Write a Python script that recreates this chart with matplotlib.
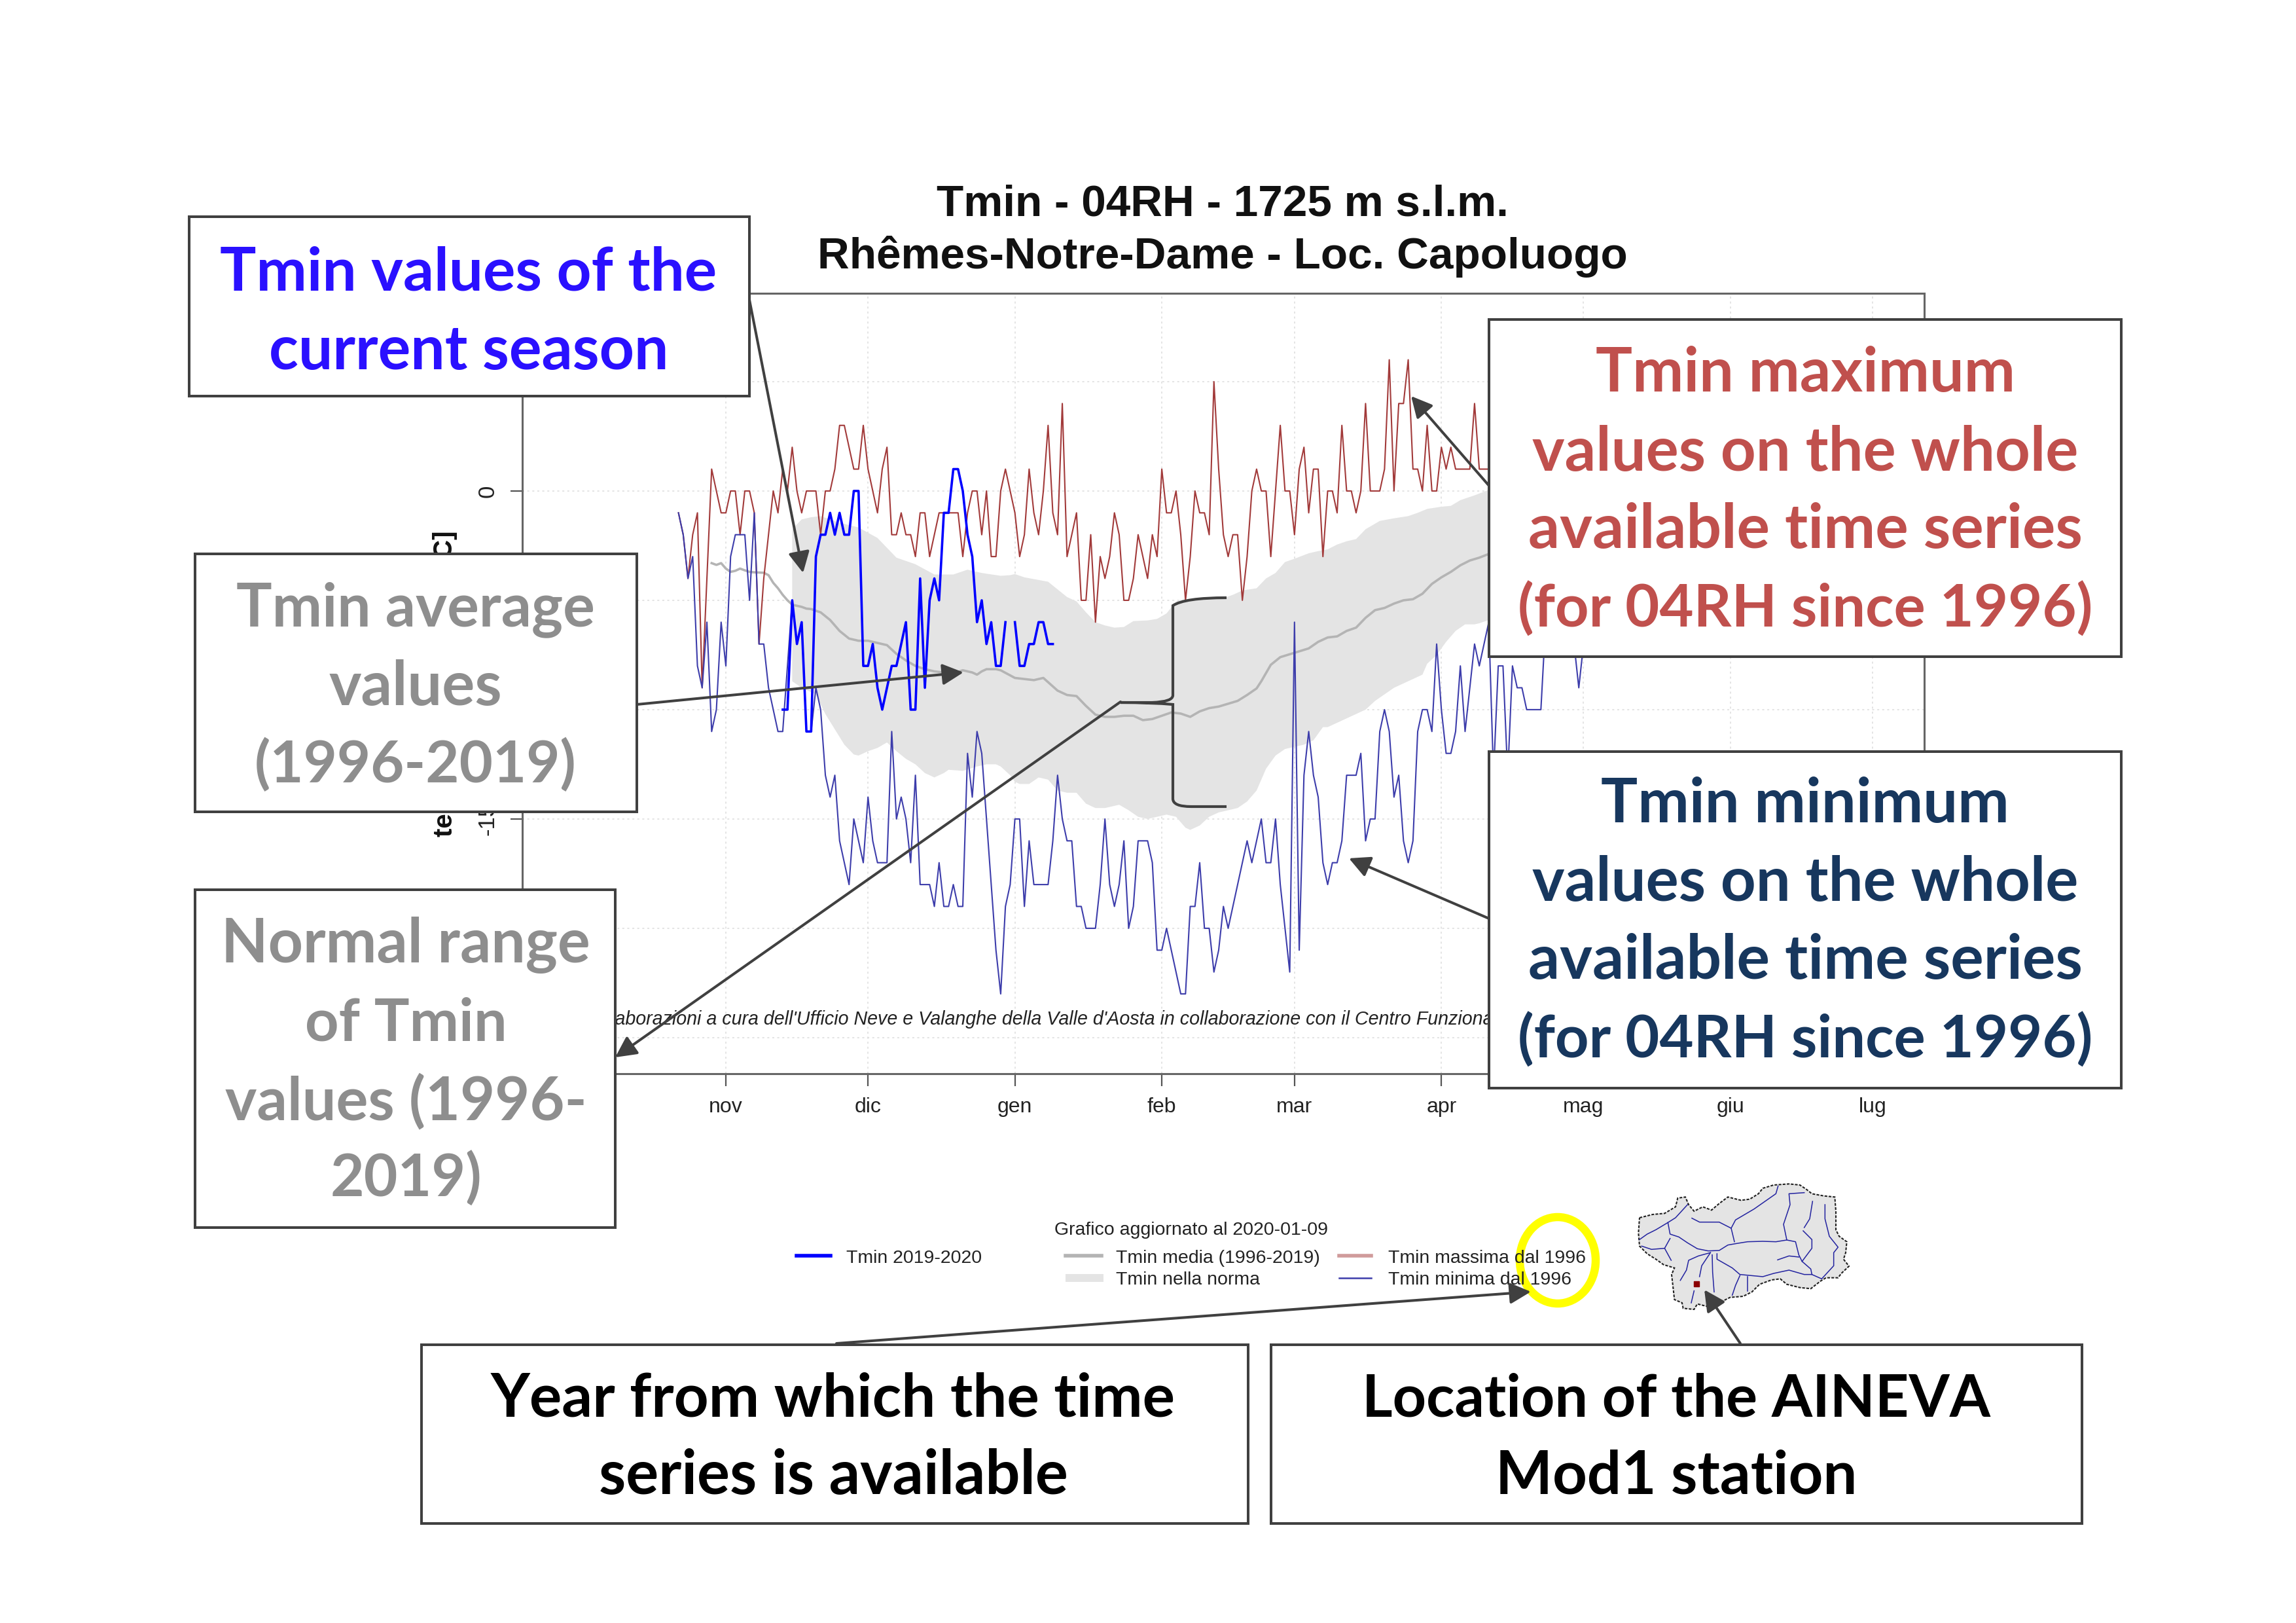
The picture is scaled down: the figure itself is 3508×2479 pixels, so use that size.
import numpy as np
import matplotlib
matplotlib.use('Agg')
import matplotlib.pyplot as plt
from matplotlib.patches import Rectangle, Ellipse, PathPatch, Polygon
from matplotlib.path import Path

# Series (days counted from 1 November)
tmin_max_start = -10
tmin_max = [-1, -2, -4, -2, -1, -9, -4, 1, 0, -1,
            -1, 0, 0, -2, 0, 0, -1, -7, -4, -2,
            0, -1, 1, 0, 2, 0, -1, 0, 0, 0,
            -2, 0, 0, 1, 3, 3, 2, 1, 1, 3,
            1, 0, -1, 1, 2, -2, -2, -1, -2, -2,
            -3, -1, -1, -3, -2, -1, -1, -1, -1, -1,
            -3, -1, 0, 0, -2, 0, -3, -3, 0, 1,
            0, -1, -3, -2, 1, -1, -2, 0, 3, -1,
            -2, 4, -3, -2, -1, -5, -5, -2, -6, -3,
            -4, -3, -1, -2, -5, -5, -4, -2, -3, -4,
            -2, -3, 1, -1, -1, 0, -2, -5, -3, 0,
            -1, -1, -2, 5, 1, -2, -3, -2, -2, -5,
            -3, 0, 1, 0, 0, -3, 0, 3, 0, 0,
            -2, 1, 2, -1, 1, 1, -3, 0, 0, -1,
            3, 0, 0, -1, 0, 4, 0, 0, 0, 1,
            6, 0, 4, 4, 6, 1, 1, 0, 3, 0,
            0, 2, 1, 2, 1, 1, 1, 1, 4, 1, 1, 1]

tmin_min_start = -10
tmin_min = [-1, -2, -4, -3, -8, -9, -6, -11, -10, -6,
            -8, -3, -2, -2, -2, -5, -1, -7, -7, -9,
            -10, -11, -11, -8, -5, -7, -6, -11, -11, -9,
            -10, -13, -14, -13, -16, -17, -18, -15, -16, -17,
            -14, -16, -17, -17, -17, -11, -15, -14, -15, -17,
            -13, -18, -18, -18, -19, -17, -19, -19, -18, -19,
            -19, -12, -14, -11, -12, -15, -18, -21, -23, -19,
            -18, -15, -15, -19, -16, -18, -18, -18, -18, -16,
            -13, -15, -16, -16, -19, -19, -20, -20, -20, -18,
            -15, -18, -19, -18, -16, -20, -19, -16, -16, -16,
            -17, -21, -21, -20, -21, -22, -23, -23, -19, -19,
            -17, -20, -20, -22, -21, -19, -20, -19, -18, -17,
            -16, -17, -16, -15, -17, -17, -15, -18, -20, -22,
            -6, -21, -13, -11, -13, -14, -17, -18, -17, -17,
            -16, -13, -13, -13, -12, -16, -15, -15, -11, -10,
            -11, -14, -13, -16, -17, -16, -11, -10, -10, -11,
            -7, -10, -12, -12, -11, -8, -11, -9, -7, -8,
            -7, -6, -13, -8, -8, -13, -8, -9, -9, -10,
            -10, -10, -10, -6, -5, -5, -5, -5, -5, -7, -9, -7]

tmin_current_start = 12
tmin_current = [-10, -10, -5, -7, -6, -11, -11, -3, -2, -2,
                -1, -2, -1, -2, -2, 0, 0, -8, -8, -7,
                -9, -10, -9, -8, -8, -7, -6, -10, -10, -4,
                -9, -5, -4, -5, -1, -1, 1, 1, 0, -2,
                -3, -6, -5, -7, -6, -8, -8, -6, np.nan, -6,
                -8, -8, -7, -7, -6, -6, -7, -7]

mean_days = [-3, -2, -1, 0, 1, 2, 3, 4, 5, 6, 7, 8, 9, 10, 11, 12, 13, 14, 15, 16, 17, 18, 19, 20,
             22, 24, 26, 28, 30, 32, 34, 36, 38, 40, 42, 44, 48, 50, 52, 53, 54, 55, 57, 58,
             61, 63, 65, 67, 70, 72, 74, 76, 78, 80, 82, 84, 86, 88, 90, 92, 94, 96, 98,
             100, 102, 104, 106, 108, 110, 112, 113, 115, 117, 120, 123, 125, 127, 129, 131, 133,
             135, 137, 139, 141, 143, 145, 147, 149, 151, 153, 155, 157, 159, 161]
mean_values = [-3.3, -3.38, -3.3, -3.55, -3.7, -3.65, -3.55, -3.63, -3.7, -3.72, -3.73, -3.74,
               -3.85, -4.2, -4.45, -4.75, -5.0, -5.2, -5.25, -5.3, -5.38, -5.4, -5.48, -5.55,
               -5.9, -6.4, -6.75, -6.85, -6.85, -6.95, -7.05, -7.45, -7.75, -8.0, -8.15, -8.25,
               -8.35, -8.2, -8.3, -8.4, -8.25, -8.15, -8.15, -8.2,
               -8.55, -8.6, -8.65, -8.55, -9.13, -9.33, -9.38, -9.83, -10.23, -10.33, -10.33,
               -10.28, -10.28, -10.48, -10.43, -10.28, -10.13, -10.18, -10.33,
               -10.08, -9.93, -9.86, -9.73, -9.6, -9.33, -9.03, -8.7, -7.95, -7.6, -7.4, -7.2,
               -6.9, -6.7, -6.65, -6.4, -6.25,
               -5.8, -5.45, -5.35, -5.15, -5.0, -4.95, -4.7, -4.25, -3.95, -3.7, -3.4, -3.18,
               -3.05, -2.88]

upper_days = [14, 16, 18, 20, 24, 28, 32, 36, 40, 44, 48, 51, 54, 58, 60, 61, 63, 66, 68, 70,
              72, 74, 76, 78, 80, 82, 84, 86, 89, 91, 93, 95, 97, 100, 103, 105, 107, 109, 112,
              114, 116, 118, 120, 123, 125, 127, 129, 131, 133, 135, 138, 141, 144, 146, 148,
              151, 153, 155, 158, 161]
upper_values = [-1.75, -1.3, -1.2, -1.15, -1.45, -1.67, -2.15, -3.05, -3.35, -3.82, -3.82, -3.6,
                -3.75, -3.88, -3.85, -3.8, -3.95, -4.07, -4.15, -4.5, -4.85, -5.05, -5.55, -6.0,
                -6.15, -6.25, -6.22, -5.95, -5.92, -5.85, -5.6, -5.05, -4.95, -4.95, -4.95, -4.9,
                -4.75, -4.55, -4.45, -4.0, -3.75, -3.25, -3.1, -2.85, -2.75, -2.67, -2.45, -2.3,
                -2.2, -1.75, -1.37, -1.25, -1.15, -1.0, -0.82, -0.72, -0.68, -0.42, -0.2, 0.05]

lower_days = [14, 16, 19, 21, 23, 25, 27, 28, 30, 32, 34, 36, 38, 40, 42, 44, 46, 47, 50, 53,
              55, 57, 58, 60, 61, 62, 64, 66, 68, 70, 72, 74, 76, 78, 80, 82, 83, 85, 87, 89,
              91, 93, 95, 97, 98, 100, 102, 104, 106, 108, 110, 112, 114, 116, 118, 120, 122,
              124, 126, 127, 129, 131, 133, 135, 137, 139, 141, 143, 145, 147, 148, 150, 152,
              154, 156, 158, 159, 161]
lower_values = [-8.7, -9.0, -9.3, -10.2, -10.9, -11.6, -12.05, -12.1, -11.9, -11.75, -11.5, -11.9,
                -12.25, -12.5, -12.9, -13.1, -12.9, -12.75, -12.8, -12.6, -12.5, -12.5, -12.6,
                -13.0, -13.3, -13.4, -13.4, -13.1, -13.2, -13.7, -13.8, -13.8, -14.3, -14.5,
                -14.5, -14.4, -14.35, -14.6, -14.9, -15.0, -14.9, -14.8, -14.9, -15.4, -15.5,
                -15.3, -14.9, -14.7, -14.6, -14.5, -14.2, -13.7, -12.7, -12.1, -11.8, -11.7,
                -11.6, -11.4, -10.8, -10.8, -10.6, -10.4, -10.2, -10.0, -9.6, -9.3, -9.0, -8.8,
                -8.6, -8.4, -7.9, -7.5, -6.9, -6.4, -6.1, -6.1, -6.05, -5.9]

# Axes labels
month_days = [0, 30, 61, 92, 120, 151, 181, 212, 242]
month_labels = ['nov', 'dic', 'gen', 'feb', 'mar', 'apr', 'mag', 'giu', 'lug']
y_grid = [5, 0, -5, -10, -15, -20, -25]
# the other y labels sit behind the text boxes
y_labelled = [0, -15]

# Valle d'Aosta map
map_outline = [(75, 210), (135, 195), (190, 190), (240, 160), (250, 120), (285, 115), (300, 150),
               (325, 180), (365, 160), (405, 175), (440, 145), (480, 115), (540, 130), (580, 125),
               (620, 100), (640, 75), (690, 60), (760, 55), (810, 60), (840, 80), (865, 100),
               (920, 110), (970, 115), (975, 180), (975, 265), (990, 295), (1025, 320), (1020, 370),
               (1010, 400), (1035, 432), (1000, 465), (985, 485), (930, 485), (905, 500), (860, 535),
               (810, 530), (750, 515), (720, 490), (680, 495), (625, 515), (590, 550), (550, 570),
               (490, 575), (440, 600), (400, 620), (340, 605), (325, 630), (275, 625), (270, 600),
               (235, 585), (230, 540), (222, 470), (235, 440), (185, 425), (150, 400), (110, 375),
               (75, 340), (70, 280)]
map_rivers = [
    [(75, 310), (110, 285), (150, 265), (205, 232), (240, 210), (295, 150)],
    [(205, 232), (215, 285), (255, 298), (295, 325), (340, 352), (390, 362), (440, 360), (480, 335),
     (520, 328), (570, 320), (640, 318), (700, 320), (750, 312), (790, 320), (805, 380), (820, 410),
     (860, 445), (865, 470), (910, 490), (965, 430), (965, 370), (985, 345), (945, 295), (925, 215),
     (925, 150)],
    [(85, 340), (130, 355), (190, 350), (215, 305)],
    [(190, 350), (220, 405)],
    [(315, 212), (350, 230), (440, 230), (495, 258), (510, 320)],
    [(495, 258), (515, 220), (600, 170), (700, 100), (710, 65)],
    [(750, 312), (735, 240), (765, 150), (760, 100), (830, 95)],
    [(830, 255), (855, 215), (868, 135)],
    [(825, 270), (865, 310), (865, 350), (820, 410)],
    [(708, 403), (760, 385), (805, 390)],
    [(400, 370), (345, 385), (300, 405), (290, 450), (262, 497)],
    [(400, 370), (360, 430), (350, 480)],
    [(408, 380), (410, 460), (417, 550)],
    [(430, 375), (430, 400), (500, 440), (535, 470), (640, 480), (690, 465), (760, 450), (830, 470),
     (865, 470)],
    [(535, 475), (515, 520), (500, 565)],
    [(570, 480), (570, 545)],
    [(325, 545), (312, 600)],
]
station_xy = (337, 513)

W, H = 3508, 2479
DARK = '#404040'
plt.rcParams['font.family'] = ['Liberation Sans', 'DejaVu Sans']

fig = plt.figure(figsize=(W / 100, H / 100), dpi=100, facecolor='white')


def px_axes(left, top, right, bottom, **kw):
    # axes placed with pixel coordinates of the page
    return fig.add_axes([left / W, 1 - bottom / H, (right - left) / W, (bottom - top) / H], **kw)


#### Main chart ####
ax = px_axes(798, 448, 2940, 1640, zorder=1)
ax.set_xlim(-42.96, 252.9)
ax.set_ylim(-26.65, 9.04)

for d in month_days:
    ax.axvline(d, color='#dcdcdc', lw=1.1, ls=(0, (2, 3)), zorder=1)
for v in y_grid:
    ax.axhline(v, color='#dcdcdc', lw=1.1, ls=(0, (2, 3)), zorder=1)

ax.fill(list(upper_days) + lower_days[::-1], list(upper_values) + lower_values[::-1],
        color='#e4e4e4', lw=0, zorder=2)
ax.plot(mean_days, mean_values, color='#b4b4b4', lw=2.6, zorder=3)
ax.plot(np.arange(len(tmin_max)) + tmin_max_start, tmin_max, color='#a23a3a', lw=1.5, zorder=4)
ax.plot(np.arange(len(tmin_min)) + tmin_min_start, tmin_min, color='#3d3dab', lw=1.5, zorder=4)
ax.plot(np.arange(len(tmin_current)) + tmin_current_start, tmin_current, color='#0000ff', lw=2.6, zorder=5)

ax.set_xticks(month_days)
ax.set_xticklabels(month_labels, fontsize=23, color='#222222')
ax.set_yticks(y_grid)
ax.set_yticklabels([str(v) if v in y_labelled else '' for v in y_grid], rotation=90, va='center',
                   fontsize=25, color='#222222')
ax.tick_params(axis='x', length=14, width=1.6, color='#555555', pad=12)
ax.tick_params(axis='y', length=13, width=1.6, color='#555555', pad=13)
for s in ax.spines.values():
    s.set_color('#666666')
    s.set_linewidth(2.2)

#### Regional map inset ####
ax_map = px_axes(2480, 1790, 2840, 2030, zorder=2)
ax_map.set_xlim(0, 1080)
ax_map.set_ylim(720, 0)
ax_map.axis('off')
ax_map.add_patch(Polygon(map_outline, closed=True, facecolor='#e4e4e4', edgecolor='#222222',
                         lw=1.5, ls=(0, (2, 1))))
for river in map_rivers:
    xs, ys = zip(*river)
    ax_map.plot(xs, ys, color='#2323a0', lw=1.1)
ax_map.plot(*station_xy, 's', color='#8b0000', ms=6)

#### Page overlay: title, legend, boxes, arrows ####
ov = px_axes(0, 0, W, H, zorder=5)
ov.set_xlim(0, W)
ov.set_ylim(H, 0)
ov.axis('off')
ov.patch.set_alpha(0)

ov.text(1868, 312, 'Tmin - 04RH - 1725 m s.l.m.', ha='center', va='center', fontsize=48.6,
        fontweight='bold', color='#111111')
ov.text(1868, 392, 'Rhêmes-Notre-Dame - Loc. Capoluogo', ha='center', va='center', fontsize=48.6,
        fontweight='bold', color='#111111')
ov.text(680, 1044, 'temperatura minima [°C]', rotation=90, ha='center', va='center', fontsize=29,
        fontweight='bold', color='#111111')
ov.text(914, 1557, "Elaborazioni a cura dell'Ufficio Neve e Valanghe della Valle d'Aosta in collaborazione "
        "con il Centro Funzionale", ha='left', va='center', fontsize=20.6, style='italic', color='#222222', zorder=1)

# legend of the original plot
ov.text(1820, 1879, 'Grafico aggiornato al 2020-01-09', ha='center', va='center', fontsize=20.5, color='#222222')
legend_texts = [(1293, 1922, 'Tmin 2019-2020'), (1705, 1922, 'Tmin media (1996-2019)'),
                (1705, 1955, 'Tmin nella norma'), (2121, 1922, 'Tmin massima dal 1996'),
                (2121, 1955, 'Tmin minima dal 1996')]
for x, y, label in legend_texts:
    ov.text(x, y, label, ha='left', va='center', fontsize=20.5, color='#222222')
ov.plot([1217, 1269], [1918, 1918], color='#0000ff', lw=4)
ov.plot([1628, 1683], [1918, 1918], color='#b4b4b4', lw=4)
ov.add_patch(Rectangle((1628, 1946), 58, 12, facecolor='#e4e4e4', edgecolor='none'))
ov.plot([2046, 2095], [1918, 1918], color='#d09b9b', lw=4)
ov.plot([2046, 2095], [1952, 1952], color='#3d3dab', lw=1.8)

ov.add_patch(Ellipse((2380, 1925), 116, 132, fill=False, edgecolor='#ffff00', lw=9))

# arrows from the boxes
arrows = [((1145, 458), (1227, 875)), ((973, 1076), (1472, 1027)), ((1712, 1072), (940, 1615)),
          ((2276, 743), (2156, 605)), ((2275, 1403), (2061, 1311)), ((1278, 2052), (2339, 1973)),
          ((2659, 2052), (2604, 1970))]
for start, tip in arrows:
    ov.annotate('', xy=tip, xytext=start,
                arrowprops=dict(arrowstyle='-|>,head_length=0.75,head_width=0.38', color=DARK, lw=2.9,
                                shrinkA=0, shrinkB=0, mutation_scale=26))

# brace around the normal range
brace = Path([(1874, 913), (1810, 913), (1792, 925), (1792, 945), (1792, 1062),
              (1792, 1072), (1760, 1073), (1712, 1073),
              (1760, 1073), (1792, 1076), (1792, 1095), (1792, 1220),
              (1792, 1232), (1820, 1232), (1874, 1232)],
             [Path.MOVETO, Path.CURVE3, Path.CURVE3, Path.LINETO, Path.LINETO,
              Path.CURVE3, Path.CURVE3, Path.LINETO,
              Path.CURVE3, Path.CURVE3, Path.LINETO, Path.LINETO,
              Path.CURVE3, Path.CURVE3, Path.LINETO])
ov.add_patch(PathPatch(brace, fill=False, edgecolor=DARK, lw=3))

# text boxes: (frame, centre x, [(text, centre y, font size)], colour)
BLUE, RED, NAVY, GREY, BLACK = '#2a10ff', '#c0504d', '#17375e', '#8e8e8e', '#000000'
boxes = [
    ((289, 331, 1145, 605), 716, [('Tmin values of the', 411, 66.6), ('current season', 532, 67)], BLUE),
    ((298, 846, 973, 1240), 635, [('Tmin average', 924, 65.6), ('values', 1045, 67.5), ('(1996-2019)', 1163, 63.7)], GREY),
    ((298, 1359, 940, 1875), 620, [('Normal range', 1438, 67), ('of Tmin', 1557, 64.7),
                                   ('values (1996-', 1678, 66), ('2019)', 1796, 64.3)], GREY),
    ((2275, 488, 3241, 1003), 2758, [('Tmin maximum', 566, 67.3), ('values on the whole', 687, 67.6),
                                     ('available time series', 805, 68), ('(for 04RH since 1996)', 926, 64.9)], RED),
    ((2275, 1148, 3241, 1662), 2758, [('Tmin minimum', 1224, 67.5), ('values on the whole', 1344, 67.6),
                                      ('available time series', 1463, 68), ('(for 04RH since 1996)', 1584, 64.9)], NAVY),
    ((644, 2054, 1907, 2327), 1273, [('Year from which the time', 2132, 66.6), ('series is available', 2250, 67.4)], BLACK),
    ((1942, 2054, 3181, 2327), 2561, [('Location of the AINEVA', 2132, 64.5), ('Mod1 station', 2250, 66.4)], BLACK),
]
for (x0, y0, x1, y1), cx, lines, color in boxes:
    ov.add_patch(Rectangle((x0, y0), x1 - x0, y1 - y0, facecolor='white', edgecolor=DARK, lw=2.9, zorder=6))
    for line, cy, size in lines:
        ov.text(cx, cy + 32, line, ha='center', va='baseline', fontsize=size, fontweight='bold',
                family=['Lato', 'DejaVu Sans'], color=color, zorder=7)

fig.savefig('out.png', dpi=100)
